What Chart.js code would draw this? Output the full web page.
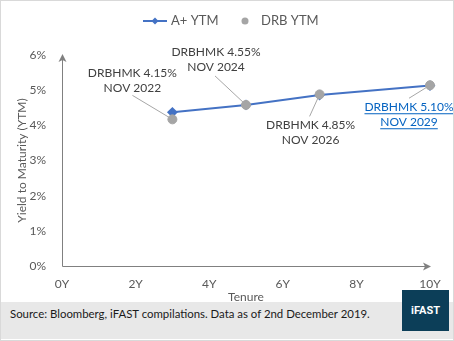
<!DOCTYPE html>
<html>
<head>
<meta charset="utf-8">
<script src="https://cdn.jsdelivr.net/npm/chart.js@4"></script>
<style>
  html, body { margin: 0; padding: 0; background: #fff; }
  #wrap { position: relative; width: 454px; height: 341px; box-sizing: border-box; border: 1px solid #d9d9d9; overflow: hidden; font-family: Lato, "Open Sans", sans-serif; }
  #c { position: absolute; left: -1px; top: -1px; }
  #foot { position: absolute; left: 0; right: 0; top: 301px; height: 37px; background: #e8e8e8; }
  #src { position: absolute; left: 9px; top: 306px; font-size: 11.4px; color: #1a1a1a; }
  #logo { position: absolute; left: 401px; top: 289px; width: 47px; height: 41px; background: #0c3e58; color: #fff; font: bold 11px Roboto, sans-serif; display: flex; align-items: center; justify-content: center; }
</style>
</head>
<body>
<div id="wrap">
  <canvas id="c" width="454" height="341"></canvas>
  <div id="foot"></div>
  <div id="src">Source: Bloomberg, iFAST compilations. Data as of 2nd December 2019.</div>
  <div id="logo">iFAST</div>
</div>
<script>
const tenures = [3, 5, 7, 10];
const aPlusYtm = [4.37, 4.58, 4.86, 5.13];
const drbYtm = [4.17, 4.58, 4.88, 5.14];
const bondNames = ["DRBHMK 4.15%", "DRBHMK 4.55%", "DRBHMK 4.85%", "DRBHMK 5.10%"];
const bondDates = ["NOV 2022", "NOV 2024", "NOV 2026", "NOV 2029"];

const FONT = "Lato, 'Open Sans', sans-serif";
const GREY_TXT = "#595959";
const AXIS = "#808080";

// label offsets relative to the DRB point: [text dx, text dy, leader start dx, dy]
const labelPos = [
  { dx: -40, dy: -46, lx: -40, ly: -24 },
  { dx: -30, dy: -53, lx: -31, ly: -29 },
  { dx: -9, dy: 31, lx: -10, ly: 22 },
  { dx: -21, dy: 22, lx: -21, ly: 13 },
];

const axisArrows = {
  id: "axisArrows",
  afterDraw(chart) {
    const { ctx, chartArea: a } = chart;
    ctx.save();
    ctx.strokeStyle = AXIS;
    ctx.fillStyle = AXIS;
    ctx.lineWidth = 1;
    ctx.beginPath();
    ctx.moveTo(a.left + 0.5, a.bottom + 0.5);
    ctx.lineTo(a.left + 0.5, a.top);
    ctx.moveTo(a.left + 0.5, a.bottom + 0.5);
    ctx.lineTo(a.right, a.bottom + 0.5);
    ctx.stroke();
    // arrowheads
    ctx.beginPath();
    ctx.moveTo(a.left + 0.5, a.top - 1);
    ctx.lineTo(a.left - 3.5, a.top + 7);
    ctx.lineTo(a.left + 0.5, a.top + 5);
    ctx.lineTo(a.left + 4.5, a.top + 7);
    ctx.closePath();
    ctx.fill();
    ctx.beginPath();
    ctx.moveTo(a.right + 1, a.bottom + 0.5);
    ctx.lineTo(a.right - 7, a.bottom - 3.5);
    ctx.lineTo(a.right - 5, a.bottom + 0.5);
    ctx.lineTo(a.right - 7, a.bottom + 4.5);
    ctx.closePath();
    ctx.fill();
    ctx.restore();
  },
};

const bondLabels = {
  id: "bondLabels",
  afterDatasetsDraw(chart) {
    const { ctx } = chart;
    const meta = chart.getDatasetMeta(1);
    ctx.save();
    ctx.font = "12px " + FONT;
    ctx.textAlign = "center";
    ctx.textBaseline = "middle";
    meta.data.forEach((pt, i) => {
      const p = labelPos[i];
      ctx.strokeStyle = "#a6a6a6";
      ctx.lineWidth = 1;
      ctx.beginPath();
      ctx.moveTo(pt.x + p.lx, pt.y + p.ly);
      ctx.lineTo(pt.x, pt.y);
      ctx.stroke();
      const last = i === meta.data.length - 1;
      ctx.fillStyle = last ? "#0563c1" : "#404040";
      const tx = pt.x + p.dx, ty = pt.y + p.dy;
      [bondNames[i], bondDates[i]].forEach((s, k) => {
        const y = ty + k * 15;
        ctx.fillText(s, tx, y);
        if (last) {
          const w = ctx.measureText(s).width;
          ctx.fillRect(tx - w / 2, y + 6, w, 1);
        }
      });
    });
    ctx.restore();
  },
};

const legendDraw = {
  id: "legendDraw",
  afterDraw(chart) {
    const { ctx } = chart;
    const ds = chart.data.datasets;
    ctx.save();
    ctx.font = "13px " + FONT;
    ctx.textBaseline = "middle";
    ctx.fillStyle = GREY_TXT;
    const y = 21;
    ctx.strokeStyle = "#4472c4";
    ctx.lineWidth = 2;
    ctx.beginPath();
    ctx.moveTo(143, y);
    ctx.lineTo(167, y);
    ctx.stroke();
    ctx.fillStyle = "#4472c4";
    ctx.beginPath();
    ctx.moveTo(155, y - 3.5);
    ctx.lineTo(158.5, y);
    ctx.lineTo(155, y + 3.5);
    ctx.lineTo(151.5, y);
    ctx.closePath();
    ctx.fill();
    ctx.fillStyle = GREY_TXT;
    ctx.fillText(ds[0].label, 171, y);
    ctx.fillStyle = "#a5a5a5";
    ctx.beginPath();
    ctx.arc(245, y, 3.5, 0, Math.PI * 2);
    ctx.fill();
    ctx.fillStyle = GREY_TXT;
    ctx.fillText(ds[1].label, 261, y);
    ctx.restore();
  },
};

new Chart(document.getElementById("c"), {
  type: "scatter",
  data: {
    datasets: [
      {
        label: "A+ YTM",
        type: "line",
        data: tenures.map((t, i) => ({ x: t, y: aPlusYtm[i] })),
        borderColor: "#4472c4",
        backgroundColor: "#4472c4",
        borderWidth: 2,
        pointStyle: "rectRot",
        pointRadius: 4,
        showLine: true,
        tension: 0,
        clip: false,
        order: 2,
      },
      {
        label: "DRB YTM",
        data: tenures.map((t, i) => ({ x: t, y: drbYtm[i] })),
        backgroundColor: "#a5a5a5",
        borderColor: "#a5a5a5",
        pointRadius: 4.5,
        showLine: false,
        clip: false,
        order: 1,
      },
    ],
  },
  options: {
    responsive: false,
    animation: false,
    events: [],
    layout: { padding: { left: 9, right: 24, top: 55, bottom: 37 } },
    plugins: { legend: { display: false }, tooltip: { enabled: false } },
    scales: {
      x: {
        type: "linear",
        min: 0,
        max: 10,
        grid: { display: false },
        border: { display: false },
        ticks: { stepSize: 2, padding: 3, color: GREY_TXT, font: { family: FONT, size: 12 }, callback: (v) => v + "Y" },
        title: { display: true, text: "Tenure", color: GREY_TXT, font: { family: FONT, size: 12 }, padding: { top: 0, bottom: 0 } },
        afterFit(s) { s.height = 38; },
      },
      y: {
        min: 0,
        max: 6,
        grid: { display: false },
        border: { display: false },
        ticks: { stepSize: 1, padding: 8, color: GREY_TXT, font: { family: FONT, size: 12 }, callback: (v) => v + "%" },
        title: { display: true, text: "Yield to Maturity (YTM)", color: GREY_TXT, font: { family: FONT, size: 12 }, padding: { top: 6, bottom: 0 } },
        afterFit(s) { s.width = 53; },
      },
    },
  },
  plugins: [axisArrows, bondLabels, legendDraw],
});
</script>
</body>
</html>
